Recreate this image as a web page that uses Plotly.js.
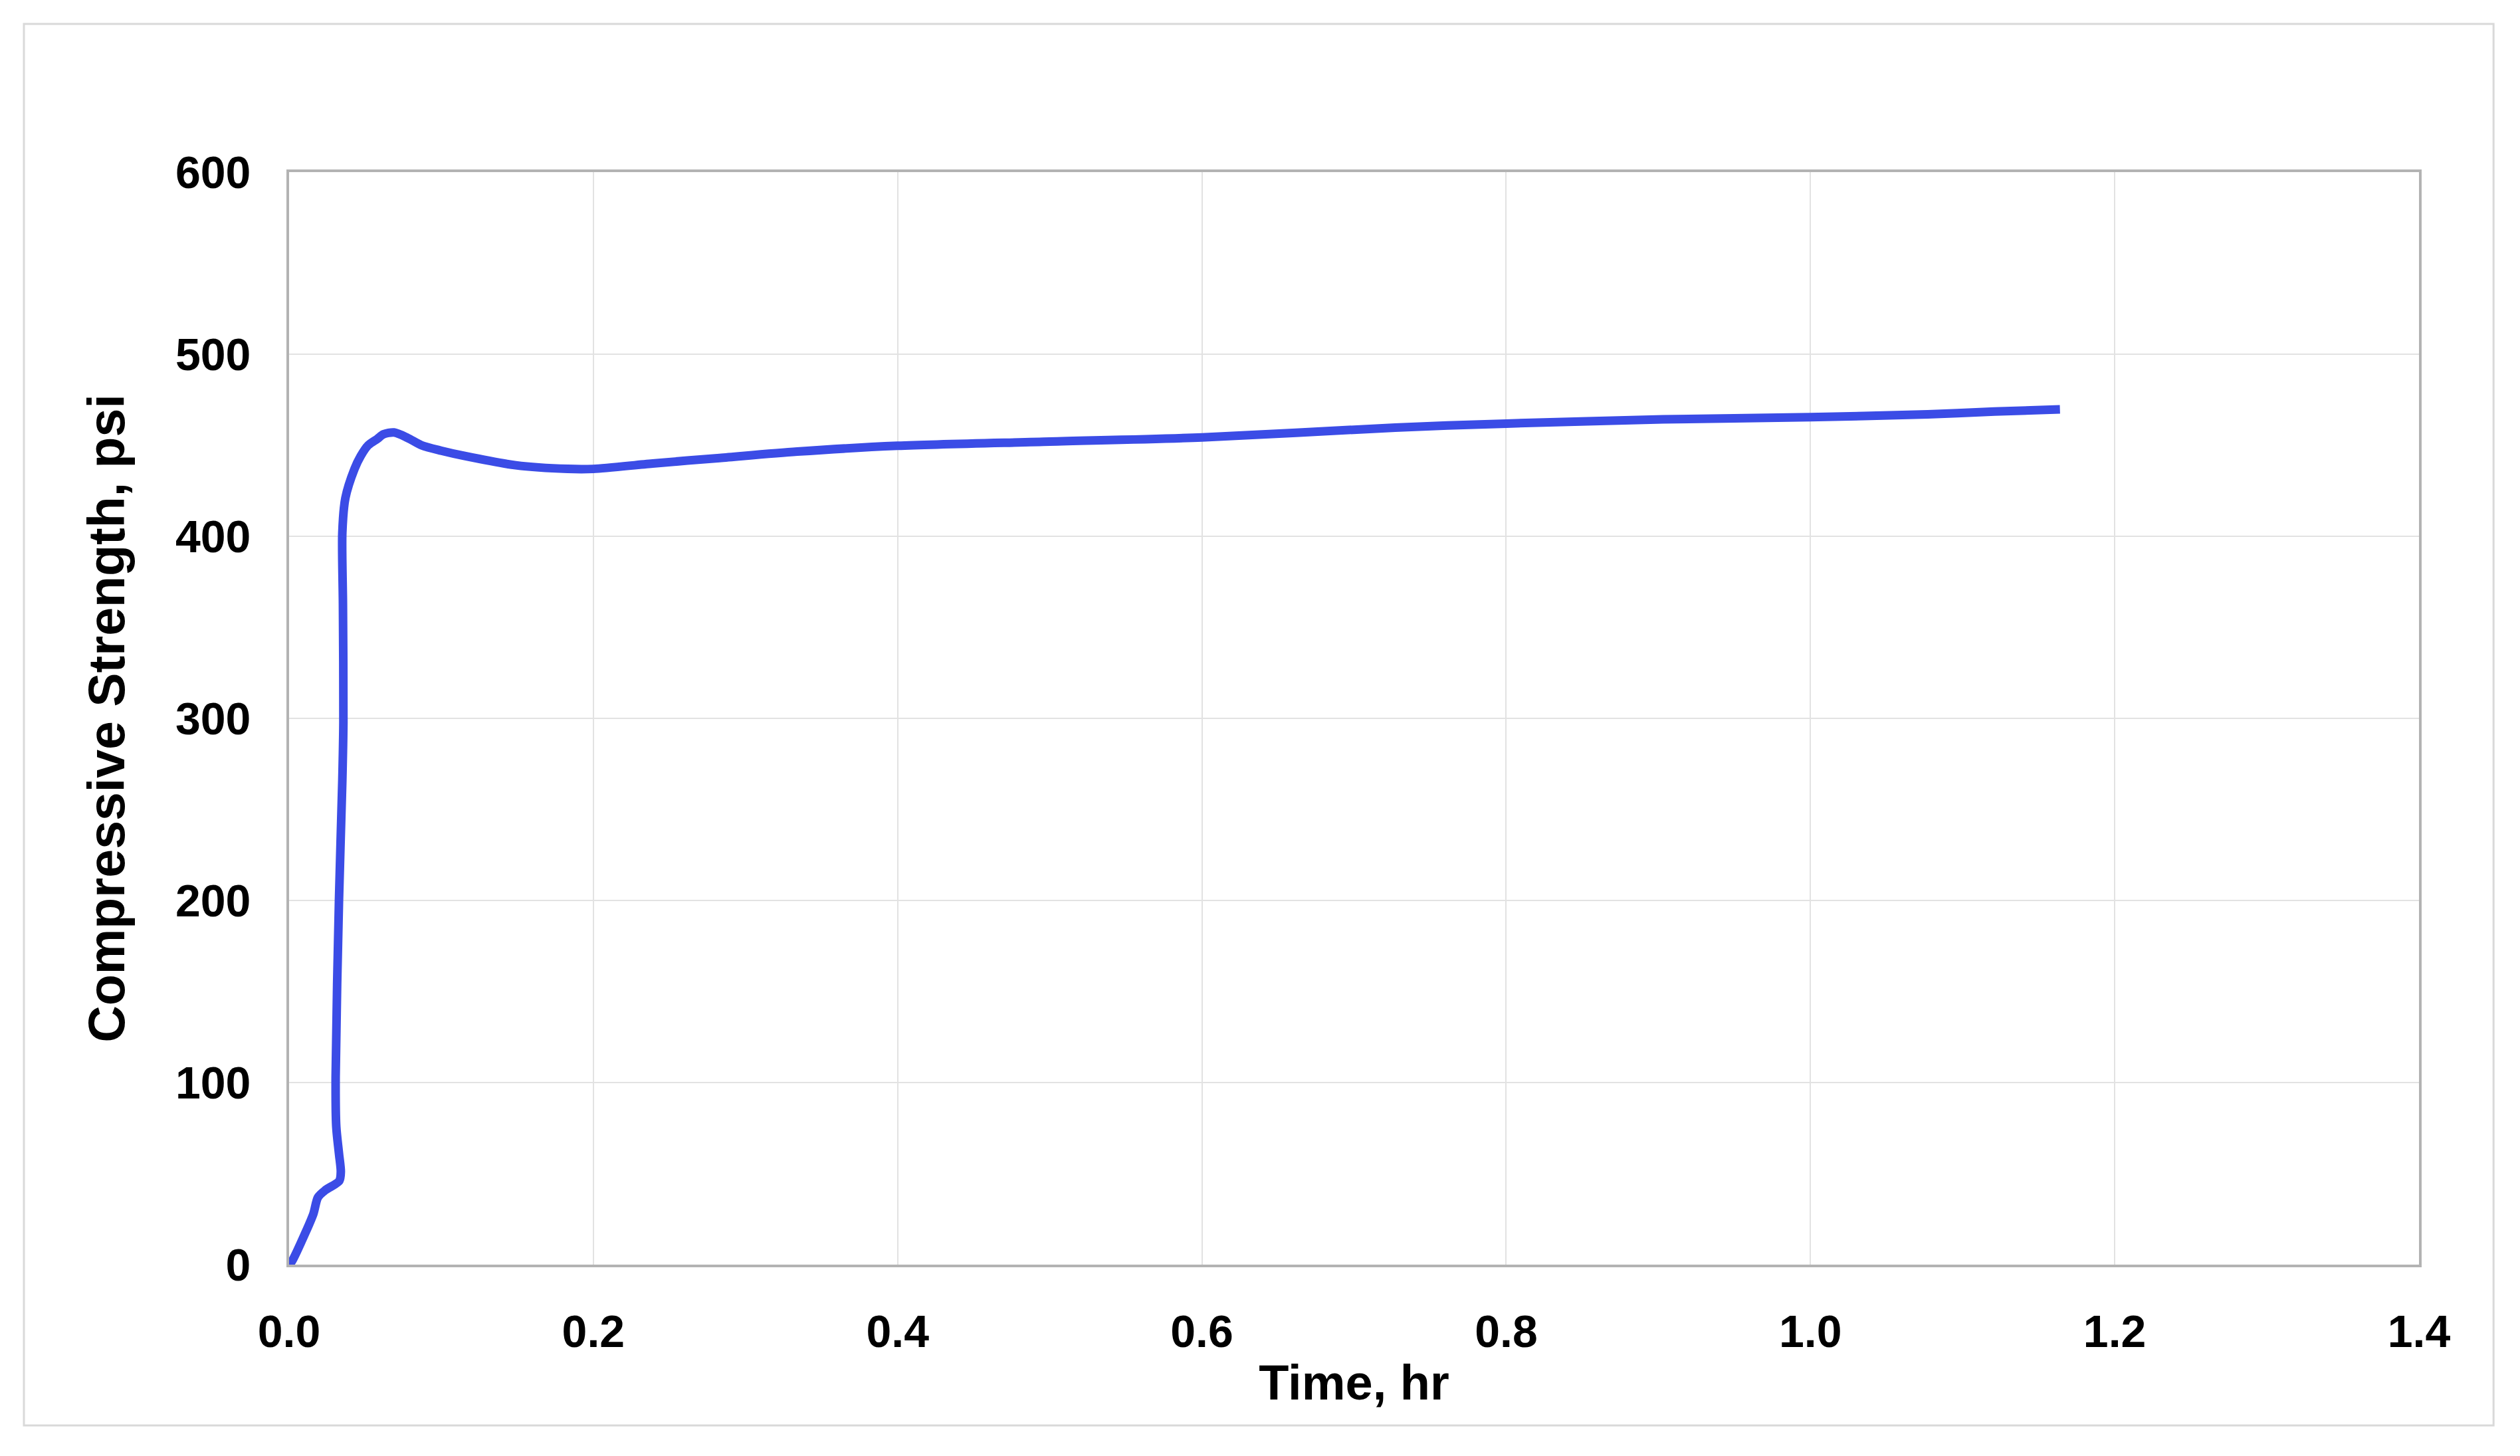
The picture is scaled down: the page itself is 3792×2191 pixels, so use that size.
<!DOCTYPE html>
<html>
<head>
<meta charset="utf-8">
<script src="https://cdn.plot.ly/plotly-3.0.1.min.js"></script>
<style>
  html, body { margin: 0; padding: 0; background: #ffffff; }
  #chart { width: 3792px; height: 2191px; }
</style>
</head>
<body>
<div id="chart"></div>
<script>
// Time, hr
const timeHr = [0, 0.002, 0.011, 0.016, 0.019, 0.024, 0.033, 0.034, 0.0328, 0.031, 0.0306,
  0.0328, 0.035, 0.0357, 0.0354, 0.035, 0.037, 0.043, 0.047, 0.052, 0.058, 0.062, 0.069,
  0.078, 0.087, 0.100, 0.116, 0.149, 0.183, 0.200, 0.239, 0.283, 0.334, 0.400, 0.500,
  0.600, 0.727, 0.800, 0.903, 1.000, 1.077, 1.121, 1.164];
// Compressive strength, psi
const strengthPsi = [0, 2, 18, 28, 37, 41, 46, 51, 61, 76, 103,
  200, 266, 298, 363, 402, 421, 437, 444, 450, 453.5, 456, 457,
  454, 450, 447, 444, 439, 437, 437, 440, 443, 446.5, 449.7, 452,
  454.3, 459.7, 461.9, 464.2, 465.4, 467.0, 468.5, 469.7];

const xTicks = [0, 0.2, 0.4, 0.6, 0.8, 1.0, 1.2, 1.4];
const xTickText = ['0.0', '0.2', '0.4', '0.6', '0.8', '1.0', '1.2', '1.4'];
const yTicks = [0, 100, 200, 300, 400, 500, 600];

const xTitle = 'Time, hr';
const yTitle = 'Compressive Strength, psi';

const fontFam = '"Liberation Sans", Arial, sans-serif';

const trace = {
  x: timeHr,
  y: strengthPsi,
  type: 'scatter',
  mode: 'lines',
  line: { color: '#3b4ce6', width: 13, shape: 'spline', smoothing: 0.8 },
  hoverinfo: 'skip'
};

const layout = {
  width: 3792,
  height: 2191,
  paper_bgcolor: '#ffffff',
  plot_bgcolor: '#ffffff',
  showlegend: false,
  margin: { l: 435, r: 152, t: 259, b: 288, pad: 0 },
  font: { family: fontFam, color: '#000000' },
  xaxis: {
    range: [0, 1.4],
    tickvals: xTicks,
    ticktext: xTickText,
    ticks: '',
    ticklabelstandoff: 38,
    tickfont: { family: fontFam, size: 68, weight: 'bold', color: '#000000' },
    showgrid: true,
    gridcolor: '#e2e2e2',
    gridwidth: 2,
    zeroline: false,
    showline: true,
    linecolor: '#b3b3b3',
    linewidth: 4,
    mirror: true,
    automargin: false,
    title: { text: '<b>' + xTitle + '</b>', font: { family: fontFam, size: 74, color: '#000000' }, standoff: 16 }
  },
  yaxis: {
    range: [0, 600],
    tickvals: yTicks,
    ticks: '',
    ticklabelstandoff: 40,
    tickfont: { family: fontFam, size: 68, weight: 'bold', color: '#000000' },
    showgrid: true,
    gridcolor: '#e2e2e2',
    gridwidth: 2,
    zeroline: false,
    showline: true,
    linecolor: '#b3b3b3',
    linewidth: 4,
    mirror: true,
    automargin: false,
    title: { text: '<b>' + yTitle + '</b>', font: { family: fontFam, size: 77, color: '#000000' }, standoff: 52 }
  },
  shapes: [{
    type: 'rect', xref: 'paper', yref: 'paper',
    x0: -0.1245, x1: 1.035, y0: -0.1472, y1: 1.1357,
    line: { color: '#d9d9d9', width: 3 },
    fillcolor: 'rgba(0,0,0,0)',
    layer: 'below'
  }]
};

Plotly.newPlot('chart', [trace], layout, { displayModeBar: false, staticPlot: true });
</script>
</body>
</html>
